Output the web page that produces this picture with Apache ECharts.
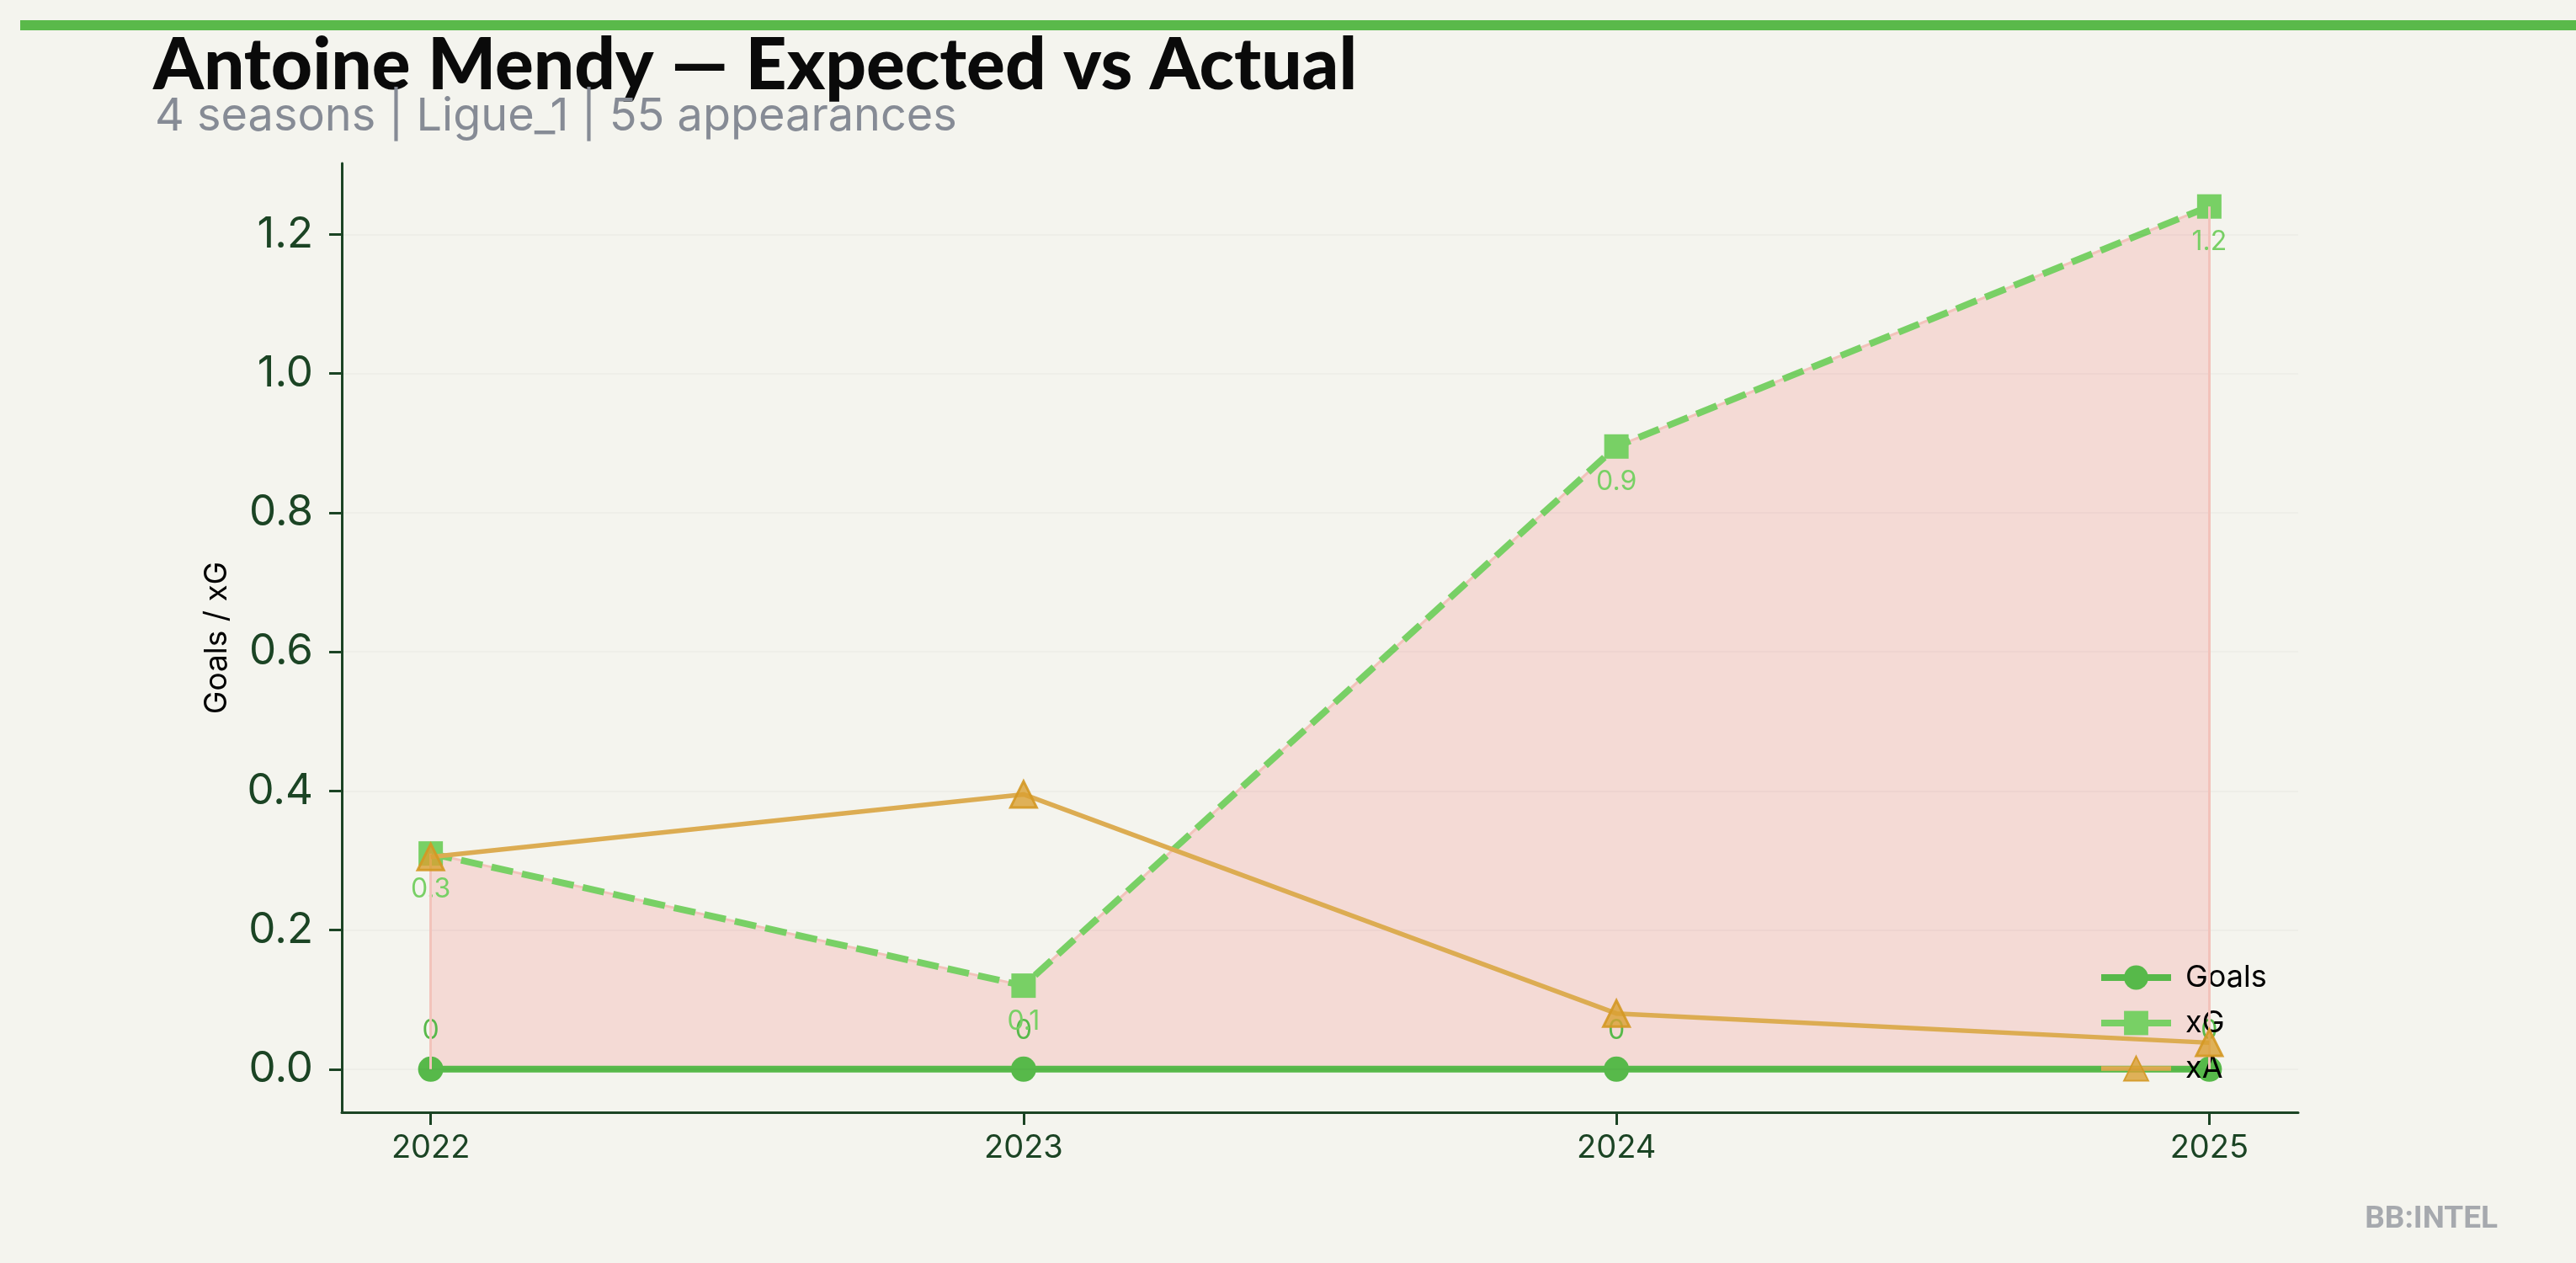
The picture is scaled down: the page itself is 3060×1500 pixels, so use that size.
<!DOCTYPE html>
<html>
<head>
<meta charset="utf-8">
<script src="https://cdn.jsdelivr.net/npm/echarts@6/dist/echarts.min.js"></script>
<style>
html,body{margin:0;padding:0;background:#f4f4ee;}
#chart{width:3060px;height:1500px;}
</style>
</head>
<body>
<div id="chart"></div>
<script>
const seasons = [2022, 2023, 2024, 2025];
const goals = [0, 0, 0, 0];
const xG = [0.31, 0.12, 0.895, 1.24];
const xA = [0.305, 0.395, 0.08, 0.038];
const yTicks = [0, 0.2, 0.4, 0.6, 0.8, 1.0, 1.2];
const titleText = 'Antoine Mendy — Expected vs Actual';
const subtitleText = '4 seasons | Ligue_1 | 55 appearances';
const yAxisName = 'Goals / xG';
const watermark = 'BB:INTEL';

const pair = arr => seasons.map((s, i) => [s, arr[i]]);
const axisColor = '#1b4424';
const font = 'Inter';
const last = seasons.length - 1;

const chart = echarts.init(document.getElementById('chart'), null, {renderer: 'canvas'});
chart.setOption({
  backgroundColor: '#f4f4ee',
  animation: false,
  textStyle: {fontFamily: font},
  grid: {left: 406, top: 194, width: 2324, height: 1127, containLabel: false},
  graphic: [
    {type: 'rect', shape: {x: 24, y: 24, width: 3036, height: 12}, style: {fill: '#5ab94a'}},
    {type: 'text', x: 182, y: 78, style: {text: titleText, font: '900 85.5px Lato', fill: '#0a0a0a', verticalAlign: 'middle'}},
    {type: 'text', x: 184, y: 139, style: {text: subtitleText, font: '400 54px Inter', fill: '#868b95', verticalAlign: 'middle'}},
    {type: 'text', x: 2967, y: 1449, style: {text: watermark, font: 'bold 37px Roboto', fill: '#a6a9ae', align: 'right', verticalAlign: 'middle'}}
  ],
  legend: {
    orient: 'vertical',
    left: 2487,
    top: 1138,
    itemWidth: 83,
    itemHeight: 36,
    itemGap: 18,
    data: ['Goals', 'xG', 'xA'],
    lineStyle: {width: 'inherit', type: 'solid'},
    textStyle: {fontFamily: font, fontSize: 36, color: '#000', padding: [0, 0, 0, 12]}
  },
  xAxis: {
    type: 'value',
    min: 2021.85,
    max: 2025.15,
    axisLine: {show: true, onZero: false, lineStyle: {color: axisColor, width: 3}},
    axisTick: {show: true, length: 15, lineStyle: {color: axisColor, width: 3}, customValues: seasons},
    axisLabel: {customValues: seasons, formatter: v => String(v), fontSize: 38, color: axisColor, margin: 24, fontFamily: font},
    splitLine: {show: false}
  },
  yAxis: {
    type: 'value',
    min: -0.062,
    max: 1.302,
    name: yAxisName,
    nameLocation: 'middle',
    nameRotate: 90,
    nameGap: 130,
    nameTextStyle: {fontSize: 37, color: '#000', fontFamily: font},
    axisLine: {show: true, onZero: false, lineStyle: {color: axisColor, width: 3}},
    axisTick: {show: true, length: 15, lineStyle: {color: axisColor, width: 3}, customValues: yTicks},
    axisLabel: {customValues: yTicks, formatter: v => v.toFixed(1), fontSize: 51, color: axisColor, margin: 34, fontFamily: font},
    splitLine: {show: false}
  },
  series: [
    {
      name: 'fill',
      type: 'line',
      data: pair(xG),
      showSymbol: false,
      silent: true,
      z: 1,
      lineStyle: {color: '#f2c3bb', width: 3},
      areaStyle: {color: 'rgb(250,77,72)', opacity: 0.15, origin: 0},
      markLine: {
        silent: true,
        symbol: 'none',
        label: {show: false},
        lineStyle: {color: 'rgba(0,0,0,0.025)', width: 2, type: 'solid'},
        data: yTicks.map(v => ({yAxis: v})).concat([
          [{coord: [seasons[0], goals[0]], lineStyle: {color: '#f2c3bb', width: 3}}, {coord: [seasons[0], xG[0]]}],
          [{coord: [seasons[last], goals[last]], lineStyle: {color: '#f2c3bb', width: 3}}, {coord: [seasons[last], xG[last]]}]
        ])
      }
    },
    {
      name: 'Goals',
      type: 'line',
      data: pair(goals),
      z: 3,
      symbol: 'circle',
      symbolSize: 30,
      lineStyle: {color: '#57b94a', width: 8},
      itemStyle: {color: '#57b94a'},
      label: {show: true, position: 'top', distance: 14, formatter: p => String(p.value[1]), color: '#57b94a', fontSize: 32, fontFamily: font}
    },
    {
      name: 'xG',
      type: 'line',
      data: pair(xG),
      z: 4,
      symbol: 'rect',
      symbolSize: 29,
      lineStyle: {color: '#78d065', width: 8, type: [26, 11]},
      itemStyle: {color: '#78d065'},
      label: {show: true, position: 'bottom', distance: 12, formatter: p => p.value[1].toFixed(1), color: '#78d065', fontSize: 32, fontFamily: font}
    },
    {
      name: 'xA',
      type: 'line',
      data: pair(xA),
      z: 5,
      symbol: 'triangle',
      symbolSize: 31,
      lineStyle: {color: '#dcac52', width: 5.5},
      itemStyle: {color: 'rgba(217,160,50,0.8)', borderColor: 'rgba(212,152,36,0.9)', borderWidth: 3}
    }
  ]
});
</script>
</body>
</html>
